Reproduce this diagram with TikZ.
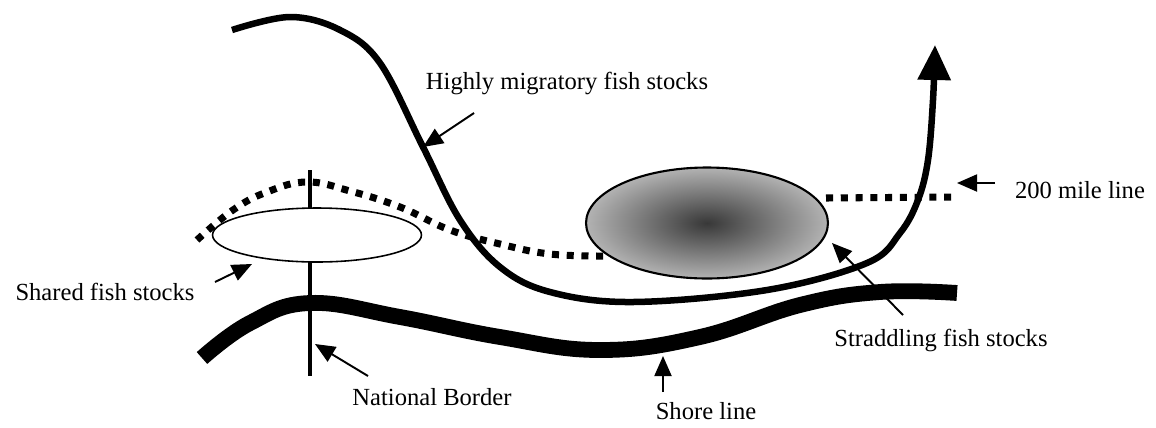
\documentclass[tikz,border=0pt]{standalone}
\usepackage{fontspec}
\setmainfont{Liberation Serif}
\usetikzlibrary{arrows.meta,shapes.geometric}

\begin{document}
\begin{tikzpicture}[
  x=0.02cm, y=-0.02cm,
  font=\fontsize{14}{16}\selectfont,
  lbl/.style={inner sep=1pt},
  pointer/.style={-{Triangle[length=4mm,width=3.4mm]}, line width=1.1pt},
  coast/.style={line width=9pt},
  route/.style={line width=3.7pt, -{Triangle[length=7mm,width=6.4mm]}},
  limit/.style={line width=4pt, dash pattern=on 4pt off 4.4pt},
  stock/.style={ellipse, draw, inner sep=0pt},
]
\useasboundingbox (0,0) rectangle (1156,427);
% national border
\coordinate (btop) at (310,170);
\coordinate (bbot) at (310,376);
\draw[line width=2.3pt] (btop) -- (bbot);
% shore line
\draw[coast] plot[smooth, tension=0.7] coordinates {(202,358) (250,323) (310,303) (400,317) (500,337) (600,350) (700,337) (800,305) (880,292) (957,293)};
% 200 mile line
\draw[limit] plot[smooth, tension=0.7] coordinates {(197,240) (233,210) (267,192) (307,182) (350,191) (400,207) (450,230) (500,244) (550,254) (605,256)};
\draw[limit] (826,198) -- (952,197);
% fish stocks
\node[stock, fill=white, line width=0.9pt, minimum width=4.18cm, minimum height=1.08cm] (shared) at (317,235) {};
\node[stock, line width=1.2pt, inner color=black!78, outer color=black!30, minimum width=4.84cm, minimum height=2.22cm] (straddle) at (707,223) {};
% highly migratory route
\draw[route] plot[smooth, tension=0.6] coordinates {(232,30) (290,17) (340,30) (380,63) (423,147) (460,220) (500,267) (550,292) (633,302) (767,290) (867,263) (900,233) (918,200) (928,160) (933,100) (935,45)};
% labels
\node[lbl] (hmlbl) at (567,83) {Highly migratory fish stocks};
\node[lbl] (milelbl) at (1080,190) {200 mile line};
\node[lbl] (sharedlbl) at (105,292) {Shared fish stocks};
\node[lbl] (borderlbl) at (432,397) {National Border};
\node[lbl] (shorelbl) at (706,411) {Shore line};
\node[lbl] (stradlbl) at (941,340) {Straddling fish stocks};
% pointers
\coordinate (hmtail) at (474,113);   \coordinate (hmtip) at (423,147);
\coordinate (miletail) at (995,183); \coordinate (miletip) at (957,183);
\coordinate (shtail) at (215,282);   \coordinate (shtip) at (252,264);
\coordinate (bdtail) at (368,376);   \coordinate (bdtip) at (315,344);
\coordinate (srtail) at (663,392);   \coordinate (srtip) at (663,356);
\coordinate (sttail) at (903,315);   \coordinate (sttip) at (832,243);
\draw[pointer] (hmtail) -- (hmtip);
\draw[pointer] (miletail) -- (miletip);
\draw[pointer] (shtail) -- (shtip);
\draw[pointer] (bdtail) -- (bdtip);
\draw[pointer] (srtail) -- (srtip);
\draw[pointer] (sttail) -- (sttip);
\end{tikzpicture}
\end{document}
